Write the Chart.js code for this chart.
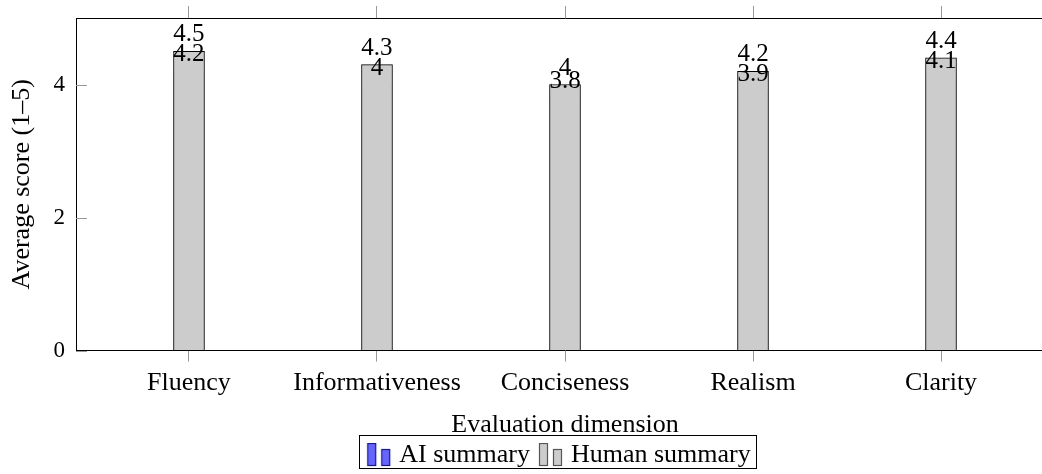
<!DOCTYPE html>
<html>
<head>
<meta charset="utf-8">
<script src="https://cdn.jsdelivr.net/npm/chart.js@4/dist/chart.umd.min.js"></script>
<style>
  body { margin: 0; background: #fff; overflow: hidden; width: 1042px; height: 474px; }
</style>
</head>
<body>
<canvas id="chart" width="1114" height="474"></canvas>
<script>
const categories = ['Fluency', 'Informativeness', 'Conciseness', 'Realism', 'Clarity'];
const aiScores = [4.2, 4.0, 3.8, 3.9, 4.1];
const humanScores = [4.5, 4.3, 4.0, 4.2, 4.4];
const yTicks = [0, 2, 4];

const serif = "'Liberation Serif', 'Times New Roman', serif";

// two-bar legend icon like pgfplots ybar legend (blank margin on the left for spacing)
const barIcon = (fill, stroke) => {
    const c = document.createElement('canvas');
    c.width = 41; c.height = 24;
    const g = c.getContext('2d');
    g.fillStyle = fill; g.strokeStyle = stroke; g.lineWidth = 1.2;
    g.fillRect(15.5, 0.5, 8, 22); g.strokeRect(15.5, 0.5, 8, 22);
    g.fillRect(29.5, 6.5, 8, 16); g.strokeRect(29.5, 6.5, 8, 16);
    return c;
};

const catTicks = scale => { scale.ticks = categories.map((c, i) => ({ value: i })); };

const labelsPlugin = {
    id: 'barLabels',
    afterLayout(chart) {
        // pgfplots centres the legend under the axis, not the page
        chart.legend.left += 28;
        chart.legend.right += 28;
    },
    afterDatasetsDraw(chart) {
        const ctx = chart.ctx;
        ctx.save();
        ctx.font = '25px ' + serif;
        ctx.fillStyle = '#000';
        ctx.textAlign = 'center';
        ctx.textBaseline = 'alphabetic';
        chart.data.datasets.forEach((ds, di) => {
            chart.getDatasetMeta(di).data.forEach((bar, i) => {
                ctx.fillText(String(ds.data[i].y), bar.x, bar.y - 10);
            });
        });
        // y ticks pointing into the plot
        const y = chart.scales.y, a = chart.chartArea;
        ctx.strokeStyle = '#999';
        ctx.lineWidth = 1;
        yTicks.forEach(v => {
            const py = Math.round(y.getPixelForValue(v)) + 0.5;
            ctx.beginPath(); ctx.moveTo(a.left, py); ctx.lineTo(a.left + 11, py); ctx.stroke();
        });
        ctx.restore();
    },
    afterDraw(chart) {
        const boxes = chart.legend.legendHitBoxes;
        if (!boxes || !boxes.length) return;
        const x0 = Math.min(...boxes.map(b => b.left));
        const x1 = Math.max(...boxes.map(b => b.left + b.width)) + 5;
        const y0 = Math.min(...boxes.map(b => b.top)) - 7;
        const y1 = Math.max(...boxes.map(b => b.top + b.height)) + 0;
        const ctx = chart.ctx;
        ctx.save();
        ctx.strokeStyle = '#000';
        ctx.lineWidth = 1;
        ctx.strokeRect(Math.round(x0) + 0.5, Math.round(y0) + 0.5, Math.round(x1 - x0), Math.round(y1 - y0));
        ctx.restore();
    }
};

const ctx = document.getElementById('chart').getContext('2d');
new Chart(ctx, {
    type: 'bar',
    data: {
        datasets: [{
            label: 'AI summary',
            data: categories.map((c, i) => ({ x: i, y: aiScores[i] })),
            backgroundColor: '#6666ff',
            borderColor: '#1a1a80',
            borderWidth: 1,
            barThickness: 29,
            order: 1
        }, {
            label: 'Human summary',
            data: categories.map((c, i) => ({ x: i, y: humanScores[i] })),
            backgroundColor: '#cccccc',
            borderColor: '#000000',
            borderWidth: 1,
            barThickness: 31,
            order: 0
        }]
    },
    options: {
        responsive: false,
        animation: false,
        devicePixelRatio: 1,
        grouped: false,
        layout: { padding: { left: 0, right: 60, top: 0, bottom: -4 } },
        plugins: {
            tooltip: { enabled: false },
            legend: {
                position: 'bottom',
                labels: {
                    usePointStyle: true,
                    pointStyleWidth: 27,
                    padding: 1,
                    color: '#000',
                    font: { family: serif, size: 26 },
                    generateLabels: chart => [
                        { text: 'AI summary', pointStyle: barIcon('#6666ff', '#1a1a80'), datasetIndex: 0, fillStyle: '#6666ff', strokeStyle: '#000', lineWidth: 0 },
                        { text: 'Human summary', pointStyle: barIcon('#cccccc', '#555555'), datasetIndex: 1, fillStyle: '#cccccc', strokeStyle: '#000', lineWidth: 0 }
                    ]
                }
            }
        },
        scales: {
            x: {
                type: 'linear',
                position: 'bottom',
                offset: false,
                min: -0.601,
                max: 4.601,
                afterBuildTicks: catTicks,
                ticks: {
                    color: '#000',
                    padding: 6,
                    font: { family: serif, size: 26 },
                    callback: v => categories[v]
                },
                grid: { drawOnChartArea: false, offset: false, tickLength: 11, color: '#999' },
                border: { color: '#000', width: 1 },
                title: {
                    display: true,
                    text: 'Evaluation dimension',
                    color: '#000',
                    font: { family: serif, size: 26 },
                    padding: { top: 5, bottom: 0 }
                }
            },
            xTop: {
                type: 'linear',
                position: 'top',
                offset: false,
                min: -0.601,
                max: 4.601,
                afterBuildTicks: catTicks,
                afterFit: scale => { scale.height = 18; },
                ticks: { display: false },
                grid: { drawOnChartArea: false, offset: false, tickLength: 12, color: '#999' },
                border: { color: '#000', width: 1 }
            },
            y: {
                min: 0,
                max: 5,
                afterBuildTicks: scale => { scale.ticks = yTicks.map(v => ({ value: v })); },
                afterFit: scale => { scale.width = 76; scale.paddingTop = 0; scale.paddingBottom = 0; },
                ticks: {
                    color: '#000',
                    padding: 11,
                    font: { family: serif, size: 23 }
                },
                grid: { drawOnChartArea: false, drawTicks: false },
                border: { color: '#000', width: 1 },
                title: {
                    display: true,
                    text: 'Average score (1–5)',
                    color: '#000',
                    font: { family: serif, size: 26 },
                    padding: { top: 7, bottom: 0 }
                }
            }
        }
    },
    plugins: [labelsPlugin]
});
</script>
</body>
</html>
